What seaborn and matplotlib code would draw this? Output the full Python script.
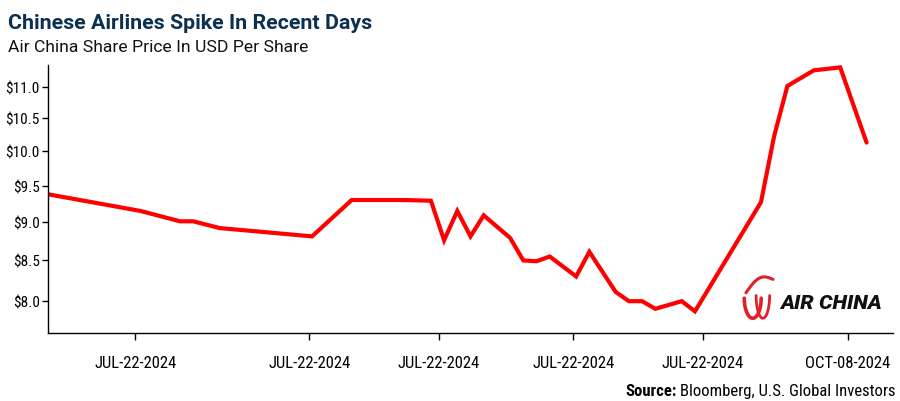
import numpy as np
import matplotlib
matplotlib.use("Agg")
import matplotlib.pyplot as plt
from matplotlib.ticker import FixedLocator, FixedFormatter, NullLocator
import seaborn as sns

# Air China share price (USD); x is a trading-day index
days = [0, 7, 10, 11, 13, 20, 23, 27, 29, 30, 31, 32, 33, 35, 36, 37, 38,
        40, 41, 43, 44, 45, 46, 48, 49, 54, 55, 56, 58, 60, 62]
prices = [9.38, 9.15, 9.01, 9.01, 8.92, 8.81, 9.30, 9.30, 9.29, 8.76, 9.15,
          8.81, 9.09, 8.79, 8.50, 8.49, 8.55, 8.30, 8.61, 8.11, 8.00, 8.00,
          7.91, 8.00, 7.88, 9.27, 10.23, 11.02, 11.28, 11.33, 10.13]

x_tick_pos = [6.6, 19.8, 29.6, 39.8, 49.6, 60.6]
x_tick_labels = ["JUL-22-2024", "JUL-22-2024", "JUL-22-2024",
                 "JUL-22-2024", "JUL-22-2024", "OCT-08-2024"]
y_ticks = [8.0, 8.5, 9.0, 9.5, 10.0, 10.5, 11.0]

title = "Chinese Airlines Spike In Recent Days"
subtitle = "Air China Share Price In USD Per Share"

sns.set_theme(style="ticks")
cond = ["Roboto Condensed", "DejaVu Sans"]
plt.rcParams["font.family"] = cond

fig = plt.figure(figsize=(9, 4.02), dpi=100)
ax = fig.add_axes([48 / 900, 1 - 334 / 402, 845 / 900, 268 / 402])

sns.lineplot(x=days, y=prices, ax=ax, color="#ff0000", linewidth=3.0,
             solid_capstyle="round", solid_joinstyle="miter")

ax.set_yscale("log")
ax.set_ylim(7.63, 11.37)
ax.set_xlim(0, 64)
ax.yaxis.set_major_locator(FixedLocator(y_ticks))
ax.yaxis.set_major_formatter(FixedFormatter([f"${v:.1f}" for v in y_ticks]))
ax.yaxis.set_minor_locator(NullLocator())
ax.set_xticks(x_tick_pos)
ax.set_xticklabels(x_tick_labels)
ax.set_xlabel("")
ax.set_ylabel("")

for side in ["top", "right"]:
    ax.spines[side].set_visible(False)
for side in ["left", "bottom"]:
    ax.spines[side].set_color("black")
    ax.spines[side].set_linewidth(1.0)
ax.tick_params(axis="y", length=4, width=1, color="black", pad=2,
               labelsize=11, labelcolor="black")
ax.tick_params(axis="x", length=5, width=1, color="black", pad=11,
               labelsize=12, labelcolor="black")


def fit_width(txt, target_px):
    # scale a text so its rendered width matches the reference
    fig.canvas.draw()
    w = txt.get_window_extent().width
    txt.set_fontsize(txt.get_fontsize() * target_px / w)


t1 = fig.text(8 / 900, 1 - 29 / 402, title, fontsize=16, fontweight="bold",
              color="#0c3052", family=["Roboto", "DejaVu Sans"], va="baseline")
t2 = fig.text(8 / 900, 1 - 52 / 402, subtitle, fontsize=11.5, color="#111111",
              family=["Roboto", "DejaVu Sans"], va="baseline")
fit_width(t1, 365)
fit_width(t2, 300)

src_b = fig.text(896 / 900, 1 - 396 / 402, "Bloomberg, U.S. Global Investors",
                 fontsize=12, color="black", ha="right", va="baseline")
fig.canvas.draw()
bw = src_b.get_window_extent().width
fig.text((896 - bw - 4) / 900, 1 - 396 / 402, "Source:", fontsize=12,
         fontweight="bold", color="black", ha="right", va="baseline")

# Air China logo: wordmark plus a simple red phoenix-like swirl
logo = ax.text(0.866, 0.115, "AIR CHINA", transform=ax.transAxes,
               fontsize=15, fontweight="heavy", style="italic", color="#111111",
               family=["Roboto", "DejaVu Sans"], va="center")
fit_width(logo, 102)
s = np.linspace(0, np.pi, 40)
ax.plot(0.834 + 0.010 * np.cos(s + np.pi), 0.13 - 0.075 * np.sin(s),
        transform=ax.transAxes, color="#e0202a", lw=2.6, solid_capstyle="round")
ax.plot(0.846 + 0.008 * np.cos(s + np.pi), 0.14 - 0.085 * np.sin(s),
        transform=ax.transAxes, color="#e0202a", lw=2.0, solid_capstyle="round")
c = np.linspace(0, 1, 40)
ax.plot(0.826 + 0.032 * c, 0.15 + 0.05 * c + 0.03 * np.sin(c * np.pi),
        transform=ax.transAxes, color="#e0202a", lw=2.2, solid_capstyle="round")

fig.savefig("out.png", dpi=100)
